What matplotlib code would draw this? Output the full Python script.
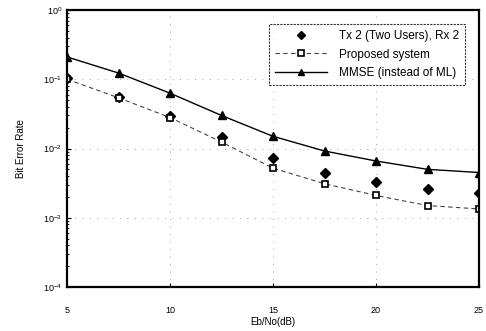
import matplotlib

matplotlib.use("Agg")
import matplotlib.pyplot as plt  # noqa: E402
from matplotlib.ticker import LogLocator  # noqa: E402

ebno = [5, 7.5, 10, 12.5, 15, 17.5, 20, 22.5, 25]
ber_tx2 = [0.104, 0.055, 0.029, 0.0146, 0.0073, 0.0044, 0.0033, 0.0026, 0.0023]
ber_proposed = [0.100, 0.054, 0.028, 0.0124, 0.0052, 0.0031, 0.0021, 0.0015, 0.00134]
ber_mmse = [0.21, 0.123, 0.063, 0.030, 0.015, 0.0092, 0.0066, 0.0050, 0.0045]
xticks = [5, 10, 15, 20, 25]

plt.rcParams["font.family"] = ["Liberation Sans", "DejaVu Sans"]

fig = plt.figure(figsize=(4.86, 3.31), dpi=100)
ax = fig.add_axes([67 / 486, 44 / 331, 412 / 486, 277 / 331])

ax.plot(ebno, ber_tx2, ls="none", marker="D", ms=5, color="black",
        label="Tx 2 (Two Users), Rx 2")
ax.plot(ebno, ber_proposed, ls=(0, (4, 3)), lw=0.8, marker="s", ms=5,
        mfc="white", mec="black", mew=1.2, color="#444444",
        label="Proposed system")
ax.plot(ebno, ber_mmse, ls="-", lw=1.0, marker="^", ms=5.5, color="black",
        label="MMSE (instead of ML)")

ax.set_yscale("log")
ax.set_ylim(1e-4, 1)
ax.set_xlim(5, 25)
ax.set_xticks(xticks)
ax.yaxis.set_minor_locator(LogLocator(base=10, subs=range(2, 10)))
ax.grid(True, which="major", ls=(0, (1, 8)), lw=0.6, color="#888888")

for side in ax.spines.values():
    side.set_linewidth(1.6)
ax.tick_params(axis="both", which="major", labelsize=6.5, length=3, direction="in")
ax.tick_params(axis="y", which="minor", length=1.5, direction="in")
ax.tick_params(axis="x", pad=14)

ax.set_xlabel("Eb/No(dB)", fontsize=7, labelpad=1)
ax.set_ylabel("Bit Error Rate", fontsize=7, labelpad=12)

leg = ax.legend(loc="upper right", fontsize=8.5, frameon=True, fancybox=False,
                edgecolor="black", borderaxespad=1.2, handlelength=4.4,
                labelspacing=0.55, markerscale=0.8, borderpad=0.5,
                handletextpad=1.0)
leg.get_frame().set_linewidth(0.8)
leg.get_frame().set_linestyle((0, (2, 1)))

fig.savefig("out.png", dpi=100)
